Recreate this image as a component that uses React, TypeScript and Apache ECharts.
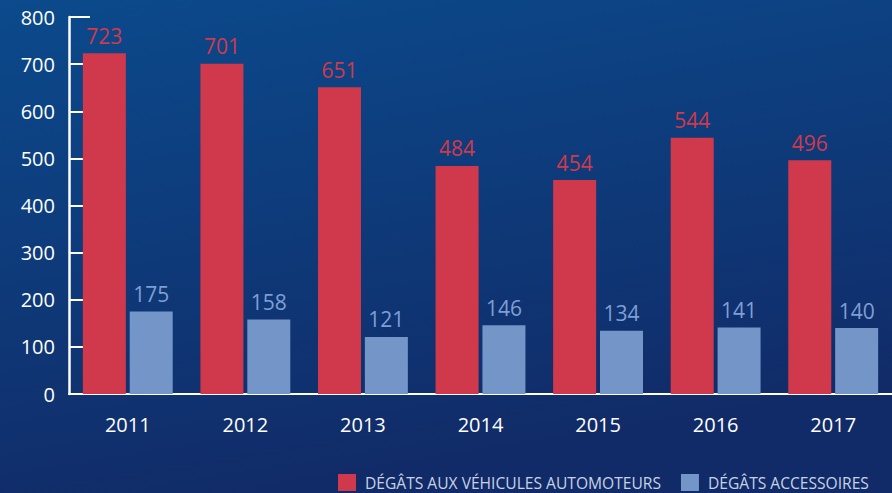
import React, { useEffect, useRef } from "react";
import * as echarts from "echarts";

const years = ["2011", "2012", "2013", "2014", "2015", "2016", "2017"];
const vehicules = [723, 701, 651, 484, 454, 544, 496];
const accessoires = [175, 158, 121, 146, 134, 141, 140];
const seriesNames = ["DÉGÂTS AUX VÉHICULES AUTOMOTEURS", "DÉGÂTS ACCESSOIRES"];

const RED = "#D0394B";
const BLUE = "#7395C8";
const FONT = "'Open Sans', Lato, sans-serif";

export default function App() {
  const ref = useRef<HTMLDivElement>(null);
  useEffect(() => {
    document.body.style.margin = "0";
    const chart = echarts.init(ref.current!, null, { renderer: "svg" });
    chart.setOption({
      animation: false,
      backgroundColor: {
        type: "linear",
        x: 0,
        y: 0,
        x2: 0.3,
        y2: 1,
        colorStops: [
          { offset: 0, color: "#0B4A8C" },
          { offset: 1, color: "#112B68" },
        ],
      },
      textStyle: { fontFamily: FONT },
      grid: { left: 69, right: 0, top: 17, bottom: 99, containLabel: false },
      legend: {
        left: 338,
        top: 474,
        width: 800,
        padding: 0,
        itemWidth: 18,
        itemHeight: 17,
        itemGap: 20,
        icon: "rect",
        textStyle: { color: "#C9D2E4", fontSize: 15.6, fontFamily: FONT, padding: [0, 0, 0, 4] },
        data: seriesNames,
      },
      xAxis: {
        type: "category",
        data: years,
        axisLine: { lineStyle: { color: "#FFFFFF", width: 2 } },
        axisTick: { inside: true, length: 10, lineStyle: { color: "#FFFFFF", width: 2 } },
        axisLabel: { color: "#FFFFFF", fontSize: 20, margin: 20, fontFamily: FONT },
      },
      yAxis: {
        type: "value",
        min: 0,
        max: 800,
        interval: 100,
        splitLine: { show: false },
        axisLine: { show: true, lineStyle: { color: "#FFFFFF", width: 2.5 } },
        axisTick: { show: true, inside: true, length: 21, lineStyle: { color: "#FFFFFF", width: 2 } },
        axisLabel: { color: "#FFFFFF", fontSize: 20, margin: 14, fontFamily: FONT },
      },
      series: [
        {
          name: seriesNames[0],
          type: "bar",
          data: vehicules,
          barWidth: 43,
          barGap: "9%",
          itemStyle: { color: RED },
          label: { show: true, position: "top", distance: 7, color: RED, fontSize: 21, fontFamily: FONT },
        },
        {
          name: seriesNames[1],
          type: "bar",
          data: accessoires,
          barWidth: 43,
          barGap: "9%",
          itemStyle: { color: BLUE },
          label: { show: true, position: "top", distance: 7, color: "#7E9FD6", fontSize: 21, fontFamily: FONT },
        },
      ],
    });
    return () => chart.dispose();
  }, []);
  return <div ref={ref} style={{ width: 892, height: 493, position: "absolute", left: 0, top: 0 }} />;
}
